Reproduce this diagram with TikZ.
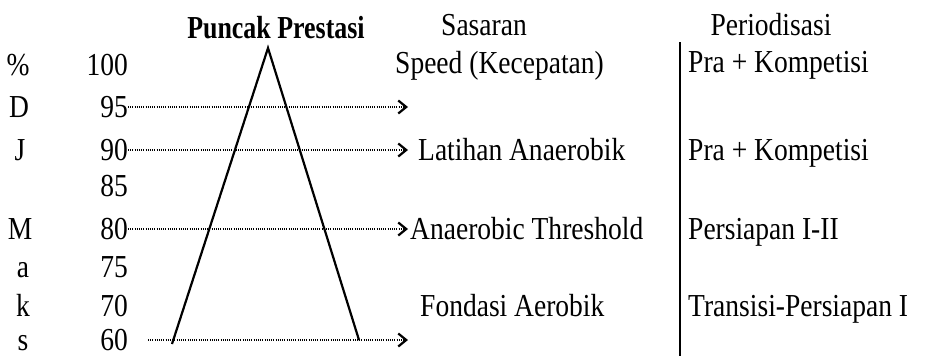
\documentclass[tikz,border=0pt]{standalone}
\usepackage{fontspec}
\setmainfont[FakeStretch=0.86]{Liberation Serif}
\newfontfamily\titlefont[FakeStretch=0.81]{Liberation Serif}
\usetikzlibrary{arrows.meta}
\begin{document}
\begin{tikzpicture}[x=1pt,y=-1pt,
  txt/.style={inner sep=0pt, font=\fontsize{32}{36}\selectfont},
  num/.style={txt, anchor=base east},
  lbl/.style={txt, anchor=base west},
  ttl/.style={txt, anchor=base},
  dotarrow/.style={line width=1.9pt, dash pattern=on 1pt off 1.2pt,
    -{Straight Barb[length=8pt,width=13pt,line width=2.2pt]}},
  tri/.style={line width=2.2pt},
  sep/.style={line width=1.8pt}]
\useasboundingbox (0,0) rectangle (930,356);

% headers
\node[txt, anchor=base, font=\fontsize{32}{36}\titlefont\bfseries] (hPuncak) at (276,38) {Puncak Prestasi};
\node[ttl] (hSasaran) at (484,35) {Sasaran};
\node[ttl] (hPeriod) at (771,35) {Periodisasi};

% left letters
\node[ttl] (lP) at (18,75) {\%};
\node[ttl] (lD) at (19,117) {D};
\node[ttl] (lJ) at (20,160) {J};
\node[ttl] (lM) at (20,239) {M};
\node[ttl] (la) at (23,277) {a};
\node[ttl] (lk) at (23,316) {k};
\node[ttl] (ls) at (23,350) {s};

% numbers
\node[num] (n100) at (128,75) {100};
\node[num] (n95) at (128,117) {95};
\node[num] (n90) at (128,160) {90};
\node[num] (n85) at (128,196) {85};
\node[num] (n80) at (128,239) {80};
\node[num] (n75) at (128,277) {75};
\node[num] (n70) at (128,316) {70};
\node[num] (n60) at (128,350) {60};

% triangle
\coordinate (apex) at (268,48);
\coordinate (footL) at (172,344);
\coordinate (footR) at (359,340);
\draw[tri] (footL) -- (apex) -- (footR);

% arrow ends
\coordinate (e95) at (408,107);
\coordinate (e90) at (408,150);
\coordinate (e80) at (408,229);
\coordinate (e60) at (408,340);
\coordinate (s60) at (148,340);

\draw[dotarrow] (n95.east |- e95) -- (e95);
\draw[dotarrow] (n90.east |- e90) -- (e90);
\draw[dotarrow] (n80.east |- e80) -- (e80);
\draw[dotarrow] (s60) -- (e60);

% Sasaran
\node[lbl] (sSpeed) at (395,73) {Speed (Kecepatan)};
\node[lbl] (sLat) at (418,160) {Latihan Anaerobik};
\node[lbl] (sAT) at (410,239) {Anaerobic Threshold};
\node[lbl] (sFond) at (420,316) {Fondasi Aerobik};

% separator
\coordinate (vTop) at (680,42);
\coordinate (vBot) at (680,356);
\draw[sep] (vTop) -- (vBot);

% Periodisasi
\node[lbl] (p1) at (688,72) {Pra + Kompetisi};
\node[lbl] (p2) at (688,160) {Pra + Kompetisi};
\node[lbl] (p3) at (688,239) {Persiapan I-II};
\node[lbl] (p4) at (688,316) {Transisi-Persiapan I};
\end{tikzpicture}
\end{document}
